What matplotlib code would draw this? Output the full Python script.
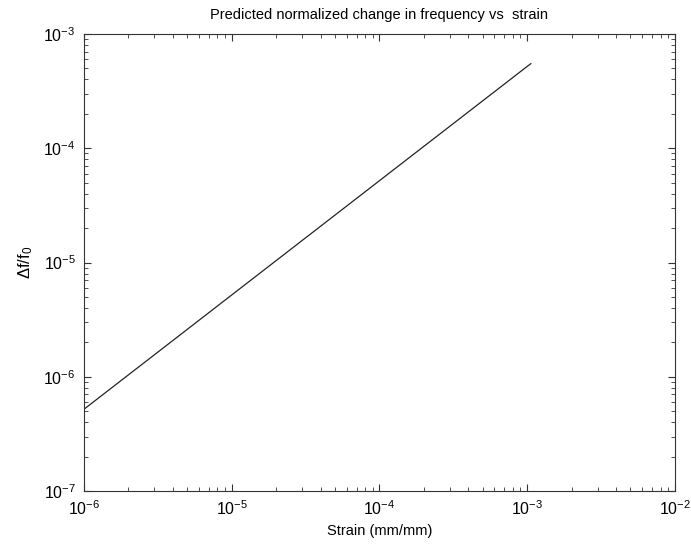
import matplotlib
matplotlib.use("Agg")
import matplotlib.pyplot as plt
from matplotlib.ticker import LogLocator, NullFormatter

plt.rcParams["font.family"] = ["Liberation Sans", "DejaVu Sans"]
plt.rcParams["mathtext.default"] = "regular"

# values (straight line, slope ~1 in log-log)
strain = [1e-6, 1e-5, 1e-4, 1e-3, 1.06e-3]
dfreq = [5.2e-7, 5.2e-6, 5.2e-5, 5.2e-4, 5.5e-4]

xticks = [1e-6, 1e-5, 1e-4, 1e-3, 1e-2]
yticks = [1e-7, 1e-6, 1e-5, 1e-4, 1e-3]

fig = plt.figure(figsize=(6.91, 5.46), dpi=100)
ax = fig.add_axes([0.1216, 0.1007, 0.855, 0.837])

ax.loglog(strain, dfreq, color="#222222", lw=0.9)

ax.set_xlim(1e-6, 1e-2)
ax.set_ylim(1e-7, 1e-3)
ax.set_xticks(xticks)
ax.set_yticks(yticks)
ax.xaxis.set_minor_locator(LogLocator(base=10, subs=range(2, 10)))
ax.yaxis.set_minor_locator(LogLocator(base=10, subs=range(2, 10)))
ax.xaxis.set_minor_formatter(NullFormatter())
ax.yaxis.set_minor_formatter(NullFormatter())
ax.tick_params(which="both", direction="in", top=True, right=True, labelsize=11.5, color="#333333")
ax.tick_params(which="major", length=5, pad=6)
ax.tick_params(which="minor", length=3)
for s in ax.spines.values():
    s.set_linewidth(0.8)
    s.set_color("#333333")

ax.set_title("Predicted normalized change in frequency vs  strain", fontsize=10.5, pad=11)
ax.set_xlabel("Strain (mm/mm)", fontsize=10.5, labelpad=4)
ax.set_ylabel(r"$\Delta$f/f$_0$", fontsize=12, labelpad=6)

fig.savefig("out.png", dpi=100)
